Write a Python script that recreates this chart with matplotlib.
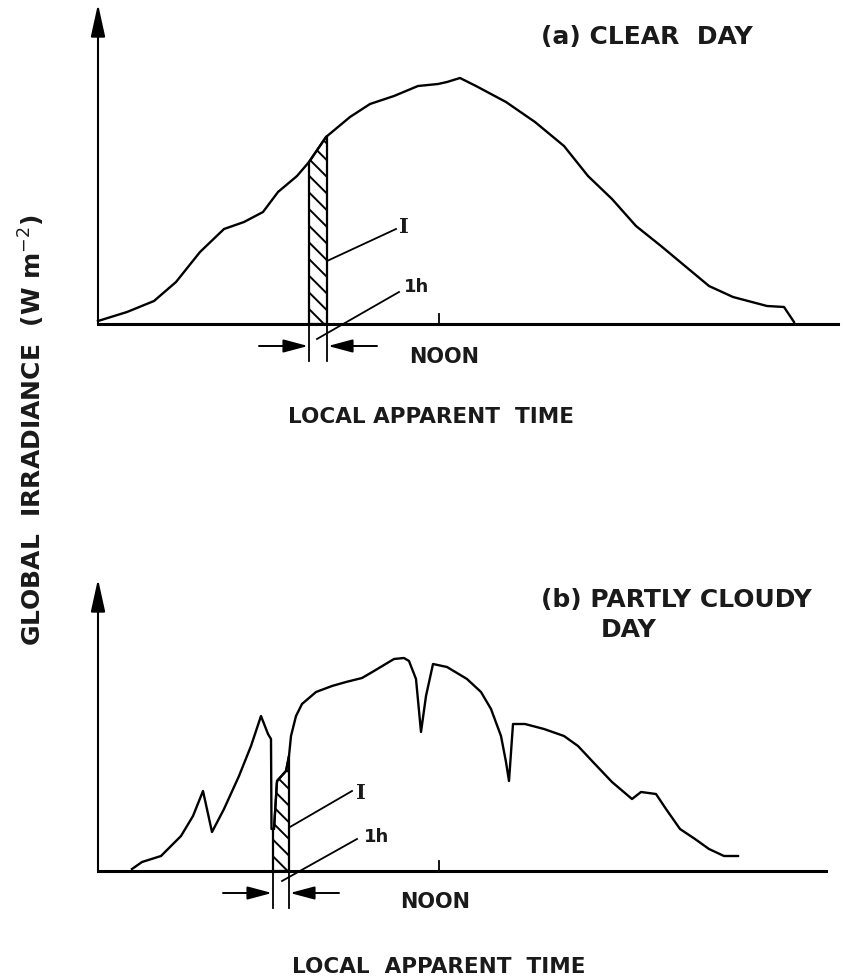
"""Global irradiance over a clear and a partly cloudy day (schematic)."""

import matplotlib

matplotlib.use("Agg")
import matplotlib.pyplot as plt
import numpy as np

# time along the day (arbitrary units from the origin), irradiance (arbitrary units)
clear_time = [0.0, 2.9, 5.6, 7.8, 10.2, 12.6, 14.6, 16.5, 18.0, 19.9, 21.1, 22.8,
              25.2, 27.2, 29.6, 32.0, 34.0, 34.9, 36.2, 37.8, 40.8, 43.7, 46.6,
              49.0, 51.4, 53.8, 56.3, 58.7, 61.1, 63.5, 66.9, 68.6, 69.6]
clear_irr = [0.3, 1.2, 2.3, 4.2, 7.2, 9.5, 10.2, 11.2, 13.2, 14.8, 16.2, 18.7,
             20.7, 22.0, 22.8, 23.8, 24.0, 24.2, 24.6, 23.8, 22.2, 20.2, 17.8,
             14.8, 12.5, 9.8, 7.8, 5.8, 3.8, 2.7, 1.8, 1.7, 0.2]

cloudy_time = [3.4, 4.4, 6.3, 8.3, 9.5, 10.5, 11.4, 12.6, 14.1, 15.3, 16.3, 17.0,
               17.3, 17.35, 17.6, 17.9, 18.8, 19.1, 19.3, 19.8, 20.4, 21.8, 23.4,
               24.8, 26.4, 27.6, 28.6, 29.6, 30.6, 31.1, 31.8, 32.3, 32.8, 33.5,
               34.9, 36.9, 38.3, 39.3, 40.3, 40.8, 41.1, 41.5, 42.7, 44.6, 46.6,
               48.0, 49.5, 51.4, 53.4, 54.3, 55.8, 56.8, 58.2, 59.7, 61.1, 62.6, 64.0]
cloudy_irr = [0.2, 0.9, 1.5, 3.5, 5.5, 8.0, 3.9, 6.2, 9.5, 12.5, 15.5, 13.7,
              13.2, 4.2, 4.2, 9.0, 10.0, 11.5, 13.5, 15.5, 16.7, 17.9, 18.5,
              18.9, 19.3, 20.0, 20.6, 21.2, 21.3, 21.0, 19.2, 13.9, 17.5, 20.7,
              20.4, 19.2, 17.9, 16.2, 13.5, 10.9, 9.0, 14.7, 14.7, 14.2, 13.5,
              12.5, 10.9, 8.9, 7.2, 7.9, 7.7, 6.2, 4.2, 3.2, 2.2, 1.5, 1.5]

noon_time = 34.1
clear_strip = [21.1, 22.9]   # the 1 h interval
cloudy_strip = [17.5, 19.1]

plt.rcParams["hatch.linewidth"] = 1.4
W, H = 844, 979
fig = plt.figure(figsize=(W / 100, H / 100), dpi=100)
TXT = dict(color="#1a1a1a", fontweight="bold", family="DejaVu Sans")


def px_axes(left, right, top, bottom):
    return fig.add_axes([left / W, 1 - bottom / H, (right - left) / W, (bottom - top) / H])


def arrow(ax, start, end, **kw):
    ax.annotate("", xy=end, xytext=start, annotation_clip=False,
                arrowprops=dict(color="k", lw=1.4, shrinkA=0, shrinkB=0, **kw))


def panel(ax, t, g, strip, xmax, ymax):
    ax.set_xlim(0, xmax)
    ax.set_ylim(0, ymax)
    for s in ("top", "right", "left"):
        ax.spines[s].set_visible(False)
    ax.spines["bottom"].set_linewidth(2.2)
    ax.set_xticks([])
    ax.set_yticks([])
    ax.patch.set_alpha(0)
    ax.annotate("", xy=(0, 1), xytext=(0, 0), xycoords="axes fraction",
                arrowprops=dict(arrowstyle="-|>,head_length=1.0,head_width=0.22",
                                mutation_scale=20, lw=1.5, color="k",
                                shrinkA=0, shrinkB=0))
    xs = np.linspace(strip[0], strip[1], 30)
    ax.fill_between(xs, 0, np.interp(xs, t, g), facecolor="white",
                    edgecolor="k", hatch="\\\\", lw=1.6, zorder=2)
    ax.plot(t, g, color="k", lw=1.7, clip_on=False, zorder=3)
    ax.plot([noon_time, noon_time], [0, 1.0], color="k", lw=1.3)
    # 1 h dimension marks below the axis
    for x in strip:
        ax.plot([x, x], [0, -3.7], color="k", lw=1.3, clip_on=False)
    head = "-|>,head_length=1.5,head_width=0.4"
    arrow(ax, (strip[0] - 5.0, -2.2), (strip[0] - 0.1, -2.2), arrowstyle=head, mutation_scale=10)
    arrow(ax, (strip[1] + 5.0, -2.2), (strip[1] + 0.1, -2.2), arrowstyle=head, mutation_scale=10)


# (a) clear day
ax1 = px_axes(98, 838, 5, 325)
panel(ax1, clear_time, clear_irr, clear_strip, 74.0, 32.0)
ax1.text(44.3, 28.8, "(a) CLEAR  DAY", ha="left", va="center", fontsize=18, **TXT)
ax1.text(34.6, -3.2, "NOON", ha="center", va="center", fontsize=15, clip_on=False, **TXT)
ax1.text(33.3, -9.2, "LOCAL APPARENT  TIME", ha="center", va="center", fontsize=15.5,
         clip_on=False, **TXT)
ax1.plot([22.9, 29.8], [6.3, 9.5], color="k", lw=1.3)
ax1.text(30.6, 9.8, "I", ha="center", va="center", fontsize=15, color="#1a1a1a",
         fontweight="bold", family="DejaVu Serif")
ax1.plot([30.1, 21.9], [3.2, -1.5], color="k", lw=1.3, clip_on=False)
ax1.text(31.9, 3.8, "1h", ha="center", va="center", fontsize=13, **TXT)

# (b) partly cloudy day
ax2 = px_axes(98, 826, 580, 872)
panel(ax2, cloudy_time, cloudy_irr, cloudy_strip, 72.8, 29.2)
ax2.text(44.3, 27.2, "(b) PARTLY CLOUDY", ha="left", va="center", fontsize=18, **TXT)
ax2.text(50.3, 24.2, "DAY", ha="left", va="center", fontsize=18, **TXT)
ax2.text(33.7, -3.0, "NOON", ha="center", va="center", fontsize=15, clip_on=False, **TXT)
ax2.text(34.1, -9.5, "LOCAL  APPARENT  TIME", ha="center", va="center", fontsize=15.5,
         clip_on=False, **TXT)
ax2.plot([19.2, 25.4], [4.4, 8.0], color="k", lw=1.3)
ax2.text(26.3, 7.9, "I", ha="center", va="center", fontsize=15, color="#1a1a1a",
         fontweight="bold", family="DejaVu Serif")
ax2.plot([25.9, 18.4], [3.2, -1.0], color="k", lw=1.3, clip_on=False)
ax2.text(27.9, 3.5, "1h", ha="center", va="center", fontsize=13, **TXT)

fig.text(32 / W, 1 - 430 / H, "GLOBAL  IRRADIANCE  (W m$^{-2}$)", rotation=90,
         ha="center", va="center", fontsize=18, **TXT)

fig.savefig("out.png", dpi=100, facecolor="white")
